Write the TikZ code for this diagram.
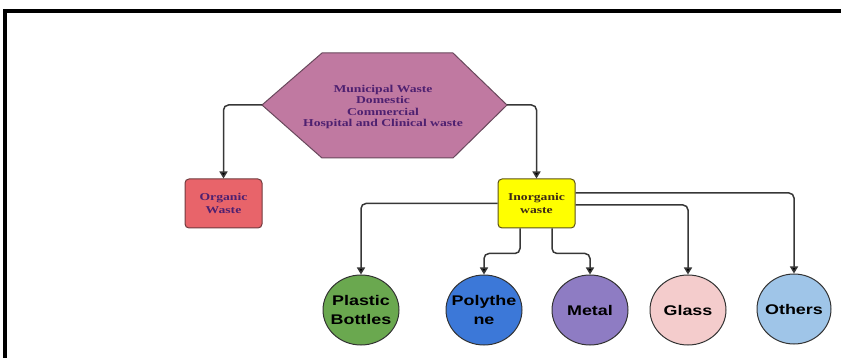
\documentclass[tikz,border=0pt]{standalone}
\usepackage{fontspec}
\usetikzlibrary{shapes.geometric,arrows.meta}
\newfontfamily\labserif[FakeStretch=1.3]{Liberation Serif Bold}
\newfontfamily\labsans[FakeStretch=1.28]{Liberation Sans Bold}

\definecolor{hexfill}{RGB}{192,121,161}
\definecolor{hexedge}{RGB}{105,72,92}
\definecolor{hextext}{RGB}{78,32,112}
\definecolor{orgfill}{RGB}{232,100,106}
\definecolor{orgedge}{RGB}{112,58,62}
\definecolor{inorgfill}{RGB}{255,255,0}
\definecolor{inorgedge}{RGB}{92,82,22}
\definecolor{inorgtext}{RGB}{62,42,22}
\definecolor{cgreen}{RGB}{106,168,79}
\definecolor{cblue}{RGB}{60,120,216}
\definecolor{cpurple}{RGB}{142,124,195}
\definecolor{cpink}{RGB}{244,204,204}
\definecolor{clblue}{RGB}{159,197,232}
\definecolor{linegray}{RGB}{55,55,55}

\tikzset{
  catbox/.style={draw, line width=1pt, rounded corners=4pt,
    minimum width=77pt, minimum height=49pt, align=center, inner sep=0pt,
    font=\labserif\fontsize{10.5}{13}\selectfont},
  bubble/.style={ellipse, draw=black!80, line width=1pt,
    minimum width=76pt, minimum height=70pt, inner xsep=-6pt, inner ysep=0pt,
    align=center, font=\labsans\fontsize{14}{18.5}\selectfont},
  conn/.style={draw=linegray, line width=1.5pt, rounded corners=5pt,
    -{Triangle[width=8pt,length=7pt,fill=black]}}
}

\begin{document}
\begin{tikzpicture}[x=1pt,y=-1pt]
  \useasboundingbox (0,0) rectangle (841,358);

  % outer frame (top and left edges)
  \draw[line width=4.5pt] (5,370) -- (5,11) -- (850,11);

  % source hexagon
  \coordinate (hexL) at (262,105);
  \coordinate (hexR) at (507,105);
  \draw[fill=hexfill, draw=hexedge, line width=1pt]
    (hexL) -- (322,53) -- (453,53) -- (hexR) -- (453,158) -- (322,158) -- cycle;
  \node[align=center, text=hextext, inner sep=0pt,
        font=\labserif\fontsize{10.5}{11.6}\selectfont] (hex) at (383,107)
    {Municipal Waste\\Domestic\\Commercial\\Hospital and Clinical waste};

  % waste categories
  \node[catbox, fill=orgfill, draw=orgedge, text=hextext] (org) at (223.5,203.5)
    {Organic\\Waste};
  \node[catbox, fill=inorgfill, draw=inorgedge, text=inorgtext] (inorg) at (536.5,203.5)
    {Inorganic\\waste};

  % inorganic sub-types
  \node[bubble, fill=cgreen]  (plastic) at (361,310) {Plastic\\Bottles};
  \node[bubble, fill=cblue]   (poly)    at (484,310) {Polythe\\ne};
  \node[bubble, fill=cpurple] (metal)   at (590,310) {Metal};
  \node[bubble, fill=cpink]   (glass)   at (688,310) {Glass};
  \node[bubble, fill=clblue, minimum width=74pt] (others) at (794,309) {Others};

  % connectors
  \draw[conn] (hexL) -| (org.north);
  \draw[conn] (hexR) -| (inorg.north);
  \draw[conn] (inorg.west) -| (plastic.north);
  \draw[conn] ([xshift=-16.5pt]inorg.south) -- ++(0,25) -| (poly.north);
  \draw[conn] ([xshift=15.5pt]inorg.south) -- ++(0,25) -| (metal.north);
  \draw[conn] ([yshift=-1.5pt]inorg.east) -| (glass.north);
  \draw[conn] ([yshift=10.5pt]inorg.east) -| (others.north);
\end{tikzpicture}
\end{document}
